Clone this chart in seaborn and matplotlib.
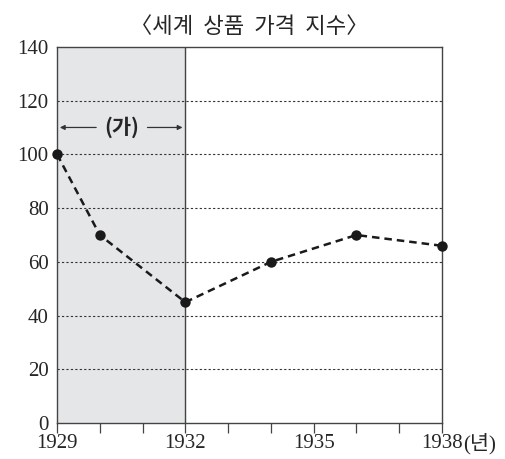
import matplotlib
matplotlib.use("Agg")
import matplotlib.pyplot as plt
import seaborn as sns
import pandas as pd

years = [1929, 1930, 1932, 1934, 1936, 1938]
price_index = [100, 70, 45, 60, 70, 66]
x_tick_labels = ["1929", "1932", "1935", "1938"]
y_ticks = [0, 20, 40, 60, 80, 100, 120, 140]

df = pd.DataFrame({"year": years, "index": price_index})

sns.set_style("white")
plt.rcParams["font.family"] = ["Liberation Serif", "Noto Sans CJK KR"]

fig = plt.figure(figsize=(5.05, 4.59), dpi=100)
ax = fig.add_axes([0.113, 0.078, 0.762, 0.82])

ax.axvspan(1929, 1932, color="#e5e6e8", zorder=0)
ax.axvline(1932, color="#444444", lw=1.0, zorder=1)
for y in y_ticks[1:-1]:
    ax.axhline(y, color="#333333", lw=0.8, ls=(0, (2, 2)), zorder=1)

sns.lineplot(data=df, x="year", y="index", ax=ax, color="#1a1a1a", lw=1.8,
             ls=(0, (3, 2)), marker="o", markersize=7.5, markeredgewidth=0,
             zorder=3, clip_on=False)

ax.annotate("", xy=(1929, 110), xytext=(1929.98, 110),
            arrowprops=dict(arrowstyle="-|>", color="#333333", lw=0.9, mutation_scale=7))
ax.annotate("", xy=(1932, 110), xytext=(1931.05, 110),
            arrowprops=dict(arrowstyle="-|>", color="#333333", lw=0.9, mutation_scale=7))
ax.text(1930.52, 110, "(가)", ha="center", va="center", fontsize=15,
        fontweight="bold", family=["Noto Sans CJK KR"])

ax.set_xlim(1929, 1938)
ax.set_ylim(0, 140)
ax.set_xticks(range(1929, 1939))
ax.set_xticklabels([x_tick_labels[(y - 1929) // 3] if (y - 1929) % 3 == 0 else "" for y in range(1929, 1939)])
ax.set_yticks(y_ticks)
ax.set_yticklabels([str(v) for v in y_ticks])
ax.tick_params(axis="x", bottom=True, direction="out", length=7, width=0.9,
               color="#444444", labelsize=15, pad=1)
ax.tick_params(axis="y", left=False, length=0, labelsize=15, pad=6)
for s in ax.spines.values():
    s.set_color("#444444")
    s.set_linewidth(1.0)
ax.set_xlabel("")
ax.set_ylabel("")
ax.set_title("〈세계  상품  가격  지수〉", fontsize=16, pad=10,
             family=["Noto Sans CJK KR"])

last_label = ax.get_xticklabels()[-1]
ax.annotate("(년)", xy=(1, 0.5), xycoords=last_label, va="center", ha="left",
            fontsize=15, family=["Liberation Serif", "Noto Sans CJK KR"])

fig.savefig("out.png", dpi=100)
